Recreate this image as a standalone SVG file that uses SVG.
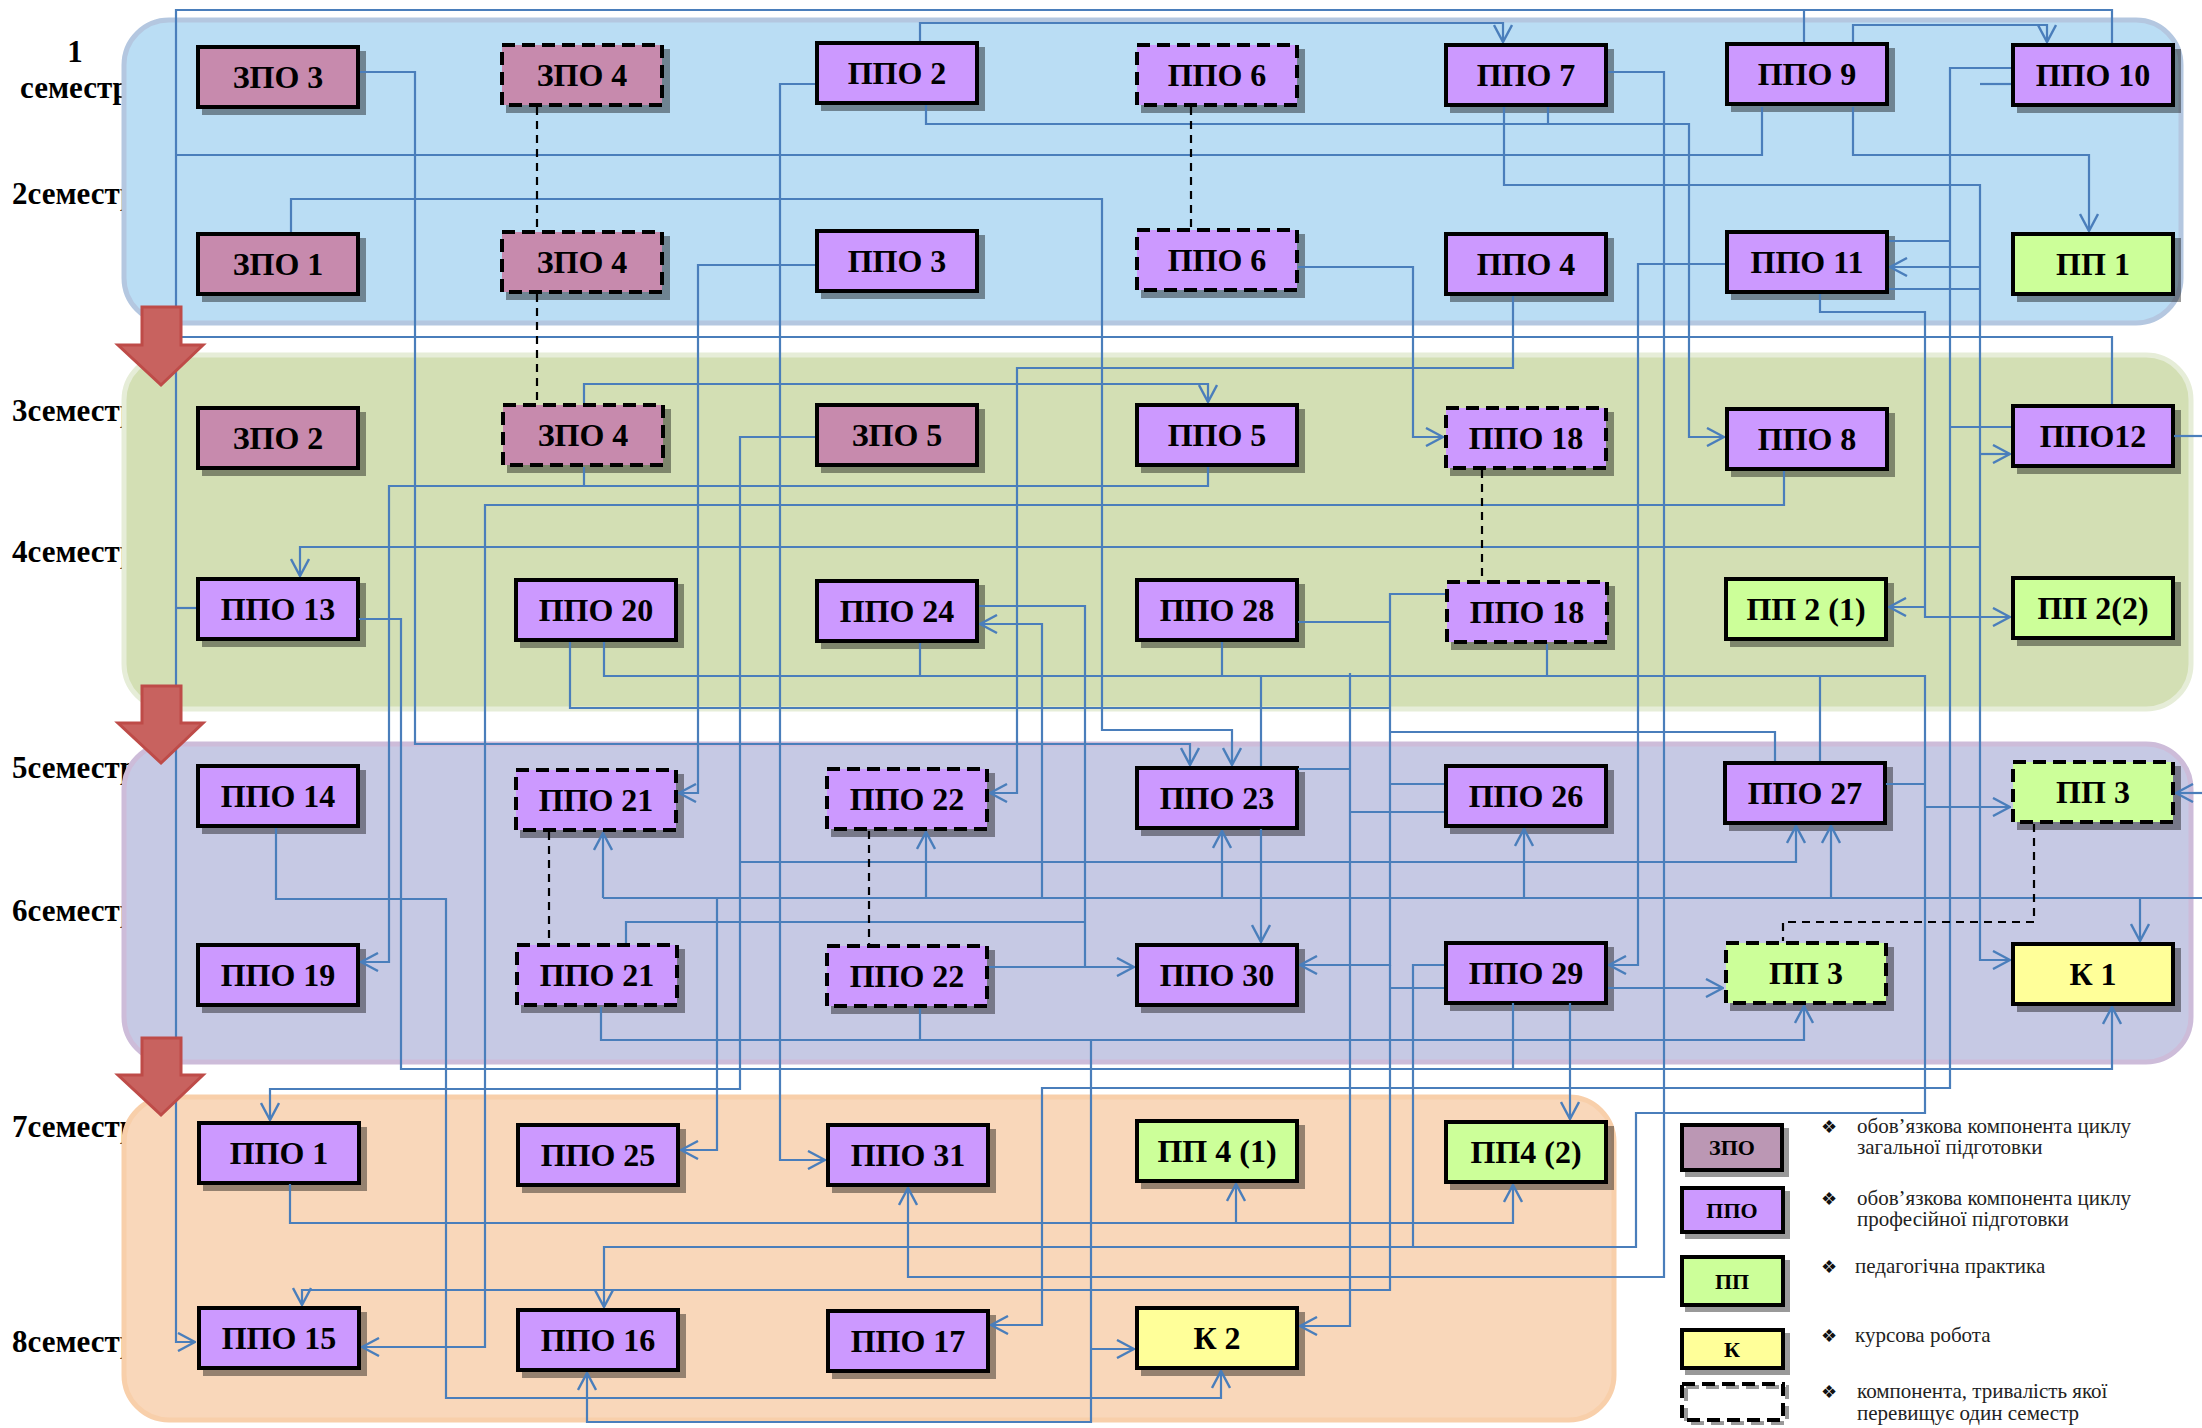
<svg xmlns="http://www.w3.org/2000/svg" width="2202" height="1428" viewBox="0 0 2202 1428">
<defs>
<style>
.sh{fill:#000;opacity:.4}
.b{stroke:#000;stroke-width:4}
.zpo{fill:#C78AAD}
.ppo{fill:#CC99FF}
.pp{fill:#CCFF99}
.k{fill:#FFFF99}
.d{stroke-dasharray:13 7}
.t{font-family:"Liberation Serif","Times New Roman",serif;font-weight:bold;font-size:32px;text-anchor:middle;fill:#000}
.lbl{font-family:"Liberation Serif","Times New Roman",serif;font-weight:bold;font-size:31px;fill:#000}
.c{fill:none;stroke:#4A7EBB;stroke-width:2.2}
.a{marker-end:url(#ah)}
.dl{fill:none;stroke:#000;stroke-width:2.2;stroke-dasharray:8 6}
.lt{font-family:"Liberation Serif","Times New Roman",serif;font-size:21px;fill:#222}
.bul{font-family:"DejaVu Sans",sans-serif;font-size:18px;fill:#111;text-anchor:middle}
.lgt{font-family:"Liberation Serif","Times New Roman",serif;font-weight:bold;font-size:22px;text-anchor:middle;fill:#000}
</style>
<marker id="ah" viewBox="0 0 20 20" refX="19" refY="10" markerWidth="20" markerHeight="20" markerUnits="userSpaceOnUse" orient="auto">
<path d="M2,1 L19,10 L2,19" fill="none" stroke="#4A7EBB" stroke-width="2.4"/>
</marker>
</defs>
<rect width="2202" height="1428" fill="#fff"/>
<g id="labels">
<text class="lbl" x="75" y="62" text-anchor="middle">1</text>
<text class="lbl" x="20" y="98">семестр</text>
<text class="lbl" x="12" y="204">2семестр</text>
<text class="lbl" x="12" y="421">3семестр</text>
<text class="lbl" x="12" y="562">4семестр</text>
<text class="lbl" x="12" y="778">5семестр</text>
<text class="lbl" x="12" y="921">6семестр</text>
<text class="lbl" x="12" y="1137">7семестр</text>
<text class="lbl" x="12" y="1352">8семестр</text>
</g>
<g id="bands">
<rect x="124" y="20" width="2057" height="303" rx="45" fill="#BADDF4" stroke="#B4C7E0" stroke-width="5"/>
<rect x="124" y="355" width="2067" height="354" rx="45" fill="#D3DFB4" stroke="#E6EDD8" stroke-width="5"/>
<rect x="124" y="744" width="2067" height="318" rx="45" fill="#C6C9E4" stroke="#CDBCD9" stroke-width="5"/>
<rect x="124" y="1097" width="1490" height="323" rx="45" fill="#F9D7BA" stroke="#F8CFAA" stroke-width="5"/>
</g>
<g id="nodes">
<g id="zpo3"><rect class="sh" x="202" y="51" width="164" height="64"/><rect class="b zpo" x="198" y="47" width="160" height="60"/><text class="t" x="278" y="88">ЗПО 3</text></g>
<g id="zpo4a"><rect class="sh" x="506" y="49" width="164" height="64"/><rect class="b zpo d" x="502" y="45" width="160" height="60"/><text class="t" x="582" y="86">ЗПО 4</text></g>
<g id="ppo2"><rect class="sh" x="821" y="47" width="164" height="64"/><rect class="b ppo" x="817" y="43" width="160" height="60"/><text class="t" x="897" y="84">ППО 2</text></g>
<g id="ppo6a"><rect class="sh" x="1141" y="49" width="164" height="64"/><rect class="b ppo d" x="1137" y="45" width="160" height="60"/><text class="t" x="1217" y="86">ППО 6</text></g>
<g id="ppo7"><rect class="sh" x="1450" y="49" width="164" height="64"/><rect class="b ppo" x="1446" y="45" width="160" height="60"/><text class="t" x="1526" y="86">ППО 7</text></g>
<g id="ppo9"><rect class="sh" x="1731" y="48" width="164" height="64"/><rect class="b ppo" x="1727" y="44" width="160" height="60"/><text class="t" x="1807" y="85">ППО 9</text></g>
<g id="ppo10"><rect class="sh" x="2017" y="49" width="164" height="64"/><rect class="b ppo" x="2013" y="45" width="160" height="60"/><text class="t" x="2093" y="86">ППО 10</text></g>

<g id="zpo1"><rect class="sh" x="202" y="238" width="164" height="64"/><rect class="b zpo" x="198" y="234" width="160" height="60"/><text class="t" x="278" y="275">ЗПО 1</text></g>
<g id="zpo4b"><rect class="sh" x="506" y="236" width="164" height="64"/><rect class="b zpo d" x="502" y="232" width="160" height="60"/><text class="t" x="582" y="273">ЗПО 4</text></g>
<g id="ppo3"><rect class="sh" x="821" y="235" width="164" height="64"/><rect class="b ppo" x="817" y="231" width="160" height="60"/><text class="t" x="897" y="272">ППО 3</text></g>
<g id="ppo6b"><rect class="sh" x="1141" y="234" width="164" height="64"/><rect class="b ppo d" x="1137" y="230" width="160" height="60"/><text class="t" x="1217" y="271">ППО 6</text></g>
<g id="ppo4"><rect class="sh" x="1450" y="238" width="164" height="64"/><rect class="b ppo" x="1446" y="234" width="160" height="60"/><text class="t" x="1526" y="275">ППО 4</text></g>
<g id="ppo11"><rect class="sh" x="1731" y="236" width="164" height="64"/><rect class="b ppo" x="1727" y="232" width="160" height="60"/><text class="t" x="1807" y="273">ППО 11</text></g>
<g id="pp1"><rect class="sh" x="2017" y="238" width="164" height="64"/><rect class="b pp" x="2013" y="234" width="160" height="60"/><text class="t" x="2093" y="275">ПП 1</text></g>

<g id="zpo2"><rect class="sh" x="202" y="412" width="164" height="64"/><rect class="b zpo" x="198" y="408" width="160" height="60"/><text class="t" x="278" y="449">ЗПО 2</text></g>
<g id="zpo4c"><rect class="sh" x="507" y="409" width="164" height="64"/><rect class="b zpo d" x="503" y="405" width="160" height="60"/><text class="t" x="583" y="446">ЗПО 4</text></g>
<g id="zpo5"><rect class="sh" x="821" y="409" width="164" height="64"/><rect class="b zpo" x="817" y="405" width="160" height="60"/><text class="t" x="897" y="446">ЗПО 5</text></g>
<g id="ppo5"><rect class="sh" x="1141" y="409" width="164" height="64"/><rect class="b ppo" x="1137" y="405" width="160" height="60"/><text class="t" x="1217" y="446">ППО 5</text></g>
<g id="ppo18a"><rect class="sh" x="1450" y="412" width="164" height="64"/><rect class="b ppo d" x="1446" y="408" width="160" height="60"/><text class="t" x="1526" y="449">ППО 18</text></g>
<g id="ppo8"><rect class="sh" x="1731" y="413" width="164" height="64"/><rect class="b ppo" x="1727" y="409" width="160" height="60"/><text class="t" x="1807" y="450">ППО 8</text></g>
<g id="ppo12"><rect class="sh" x="2017" y="410" width="164" height="64"/><rect class="b ppo" x="2013" y="406" width="160" height="60"/><text class="t" x="2093" y="447">ППО12</text></g>

<g id="ppo13"><rect class="sh" x="202" y="583" width="164" height="64"/><rect class="b ppo" x="198" y="579" width="160" height="60"/><text class="t" x="278" y="620">ППО 13</text></g>
<g id="ppo20"><rect class="sh" x="520" y="584" width="164" height="64"/><rect class="b ppo" x="516" y="580" width="160" height="60"/><text class="t" x="596" y="621">ППО 20</text></g>
<g id="ppo24"><rect class="sh" x="821" y="585" width="164" height="64"/><rect class="b ppo" x="817" y="581" width="160" height="60"/><text class="t" x="897" y="622">ППО 24</text></g>
<g id="ppo28"><rect class="sh" x="1141" y="584" width="164" height="64"/><rect class="b ppo" x="1137" y="580" width="160" height="60"/><text class="t" x="1217" y="621">ППО 28</text></g>
<g id="ppo18b"><rect class="sh" x="1451" y="586" width="164" height="64"/><rect class="b ppo d" x="1447" y="582" width="160" height="60"/><text class="t" x="1527" y="623">ППО 18</text></g>
<g id="pp2-1"><rect class="sh" x="1730" y="583" width="164" height="64"/><rect class="b pp" x="1726" y="579" width="160" height="60"/><text class="t" x="1806" y="620">ПП 2 (1)</text></g>
<g id="pp2-2"><rect class="sh" x="2017" y="582" width="164" height="64"/><rect class="b pp" x="2013" y="578" width="160" height="60"/><text class="t" x="2093" y="619">ПП 2(2)</text></g>

<g id="ppo14"><rect class="sh" x="202" y="770" width="164" height="64"/><rect class="b ppo" x="198" y="766" width="160" height="60"/><text class="t" x="278" y="807">ППО 14</text></g>
<g id="ppo21a"><rect class="sh" x="520" y="774" width="164" height="64"/><rect class="b ppo d" x="516" y="770" width="160" height="60"/><text class="t" x="596" y="811">ППО 21</text></g>
<g id="ppo22a"><rect class="sh" x="831" y="773" width="164" height="64"/><rect class="b ppo d" x="827" y="769" width="160" height="60"/><text class="t" x="907" y="810">ППО 22</text></g>
<g id="ppo23"><rect class="sh" x="1141" y="772" width="164" height="64"/><rect class="b ppo" x="1137" y="768" width="160" height="60"/><text class="t" x="1217" y="809">ППО 23</text></g>
<g id="ppo26"><rect class="sh" x="1450" y="770" width="164" height="64"/><rect class="b ppo" x="1446" y="766" width="160" height="60"/><text class="t" x="1526" y="807">ППО 26</text></g>
<g id="ppo27"><rect class="sh" x="1729" y="767" width="164" height="64"/><rect class="b ppo" x="1725" y="763" width="160" height="60"/><text class="t" x="1805" y="804">ППО 27</text></g>
<g id="pp3a"><rect class="sh" x="2017" y="766" width="164" height="64"/><rect class="b pp d" x="2013" y="762" width="160" height="60"/><text class="t" x="2093" y="803">ПП 3</text></g>

<g id="ppo19"><rect class="sh" x="202" y="949" width="164" height="64"/><rect class="b ppo" x="198" y="945" width="160" height="60"/><text class="t" x="278" y="986">ППО 19</text></g>
<g id="ppo21b"><rect class="sh" x="521" y="949" width="164" height="64"/><rect class="b ppo d" x="517" y="945" width="160" height="60"/><text class="t" x="597" y="986">ППО 21</text></g>
<g id="ppo22b"><rect class="sh" x="831" y="950" width="164" height="64"/><rect class="b ppo d" x="827" y="946" width="160" height="60"/><text class="t" x="907" y="987">ППО 22</text></g>
<g id="ppo30"><rect class="sh" x="1141" y="949" width="164" height="64"/><rect class="b ppo" x="1137" y="945" width="160" height="60"/><text class="t" x="1217" y="986">ППО 30</text></g>
<g id="ppo29"><rect class="sh" x="1450" y="947" width="164" height="64"/><rect class="b ppo" x="1446" y="943" width="160" height="60"/><text class="t" x="1526" y="984">ППО 29</text></g>
<g id="pp3b"><rect class="sh" x="1730" y="947" width="164" height="64"/><rect class="b pp d" x="1726" y="943" width="160" height="60"/><text class="t" x="1806" y="984">ПП 3</text></g>
<g id="k1"><rect class="sh" x="2017" y="948" width="164" height="64"/><rect class="b k" x="2013" y="944" width="160" height="60"/><text class="t" x="2093" y="985">К 1</text></g>

<g id="ppo1"><rect class="sh" x="203" y="1127" width="164" height="64"/><rect class="b ppo" x="199" y="1123" width="160" height="60"/><text class="t" x="279" y="1164">ППО 1</text></g>
<g id="ppo25"><rect class="sh" x="522" y="1129" width="164" height="64"/><rect class="b ppo" x="518" y="1125" width="160" height="60"/><text class="t" x="598" y="1166">ППО 25</text></g>
<g id="ppo31"><rect class="sh" x="832" y="1129" width="164" height="64"/><rect class="b ppo" x="828" y="1125" width="160" height="60"/><text class="t" x="908" y="1166">ППО 31</text></g>
<g id="pp4-1"><rect class="sh" x="1141" y="1125" width="164" height="64"/><rect class="b pp" x="1137" y="1121" width="160" height="60"/><text class="t" x="1217" y="1162">ПП 4 (1)</text></g>
<g id="pp4-2"><rect class="sh" x="1450" y="1126" width="164" height="64"/><rect class="b pp" x="1446" y="1122" width="160" height="60"/><text class="t" x="1526" y="1163">ПП4 (2)</text></g>

<g id="ppo15"><rect class="sh" x="203" y="1312" width="164" height="64"/><rect class="b ppo" x="199" y="1308" width="160" height="60"/><text class="t" x="279" y="1349">ППО 15</text></g>
<g id="ppo16"><rect class="sh" x="522" y="1314" width="164" height="64"/><rect class="b ppo" x="518" y="1310" width="160" height="60"/><text class="t" x="598" y="1351">ППО 16</text></g>
<g id="ppo17"><rect class="sh" x="832" y="1315" width="164" height="64"/><rect class="b ppo" x="828" y="1311" width="160" height="60"/><text class="t" x="908" y="1352">ППО 17</text></g>
<g id="k2"><rect class="sh" x="1141" y="1312" width="164" height="64"/><rect class="b k" x="1137" y="1308" width="160" height="60"/><text class="t" x="1217" y="1349">К 2</text></g>
</g>
<g id="connectors">
<path class="c a" d="M2112,43 V10 H176 V1342 H195"/>
<path class="c" d="M1804,42 V10"/>
<path class="c" d="M176,155 H1762 V107"/>
<path class="c" d="M176,337 H2112 V404"/>
<path class="c" d="M176,608 H196"/>
<path class="c a" d="M920,41 V23 H1503 V42"/>
<path class="c a" d="M1853,42 V25 H2047 V42"/>
<path class="c a" d="M360,72 H415 V744 H1190 V765"/>
<path class="c a" d="M291,232 V199 H1102 V730 H1232 V765"/>
<path class="c a" d="M815,84 H780 V1160 H825"/>
<path class="c a" d="M926,105 V124 H1689 V437 H1724"/>
<path class="c" d="M1548,107 V124"/>
<path class="c a" d="M815,265 H698 V793 H679"/>
<path class="c a" d="M1298,267 H1413 V437 H1443"/>
<path class="c a" d="M1513,296 V368 H1017 V793 H990"/>
<path class="c a" d="M584,403 V384 H1208 V402"/>
<path class="c a" d="M815,437 H740 V1089 H270 V1120"/>
<path class="c a" d="M1208,467 V486 H389 V962 H361"/>
<path class="c" d="M584,467 V486"/>
<path class="c a" d="M1504,107 V185 H1980 V960 H2010"/>
<path class="c" d="M2011,84 H1980"/>
<path class="c a" d="M1980,267 H1890"/>
<path class="c" d="M1889,289 H1980"/>
<path class="c a" d="M1980,454 H2010"/>
<path class="c a" d="M1980,547 H300 V576"/>
<path class="c a" d="M2011,68 H1950 V1088 H1042 V1325 H991"/>
<path class="c" d="M1889,241 H1950"/>
<path class="c" d="M2011,427 H1950"/>
<path class="c a" d="M1608,72 H1664 V1277 H908 V1188"/>
<path class="c a" d="M1853,107 V155 H2089 V231"/>
<path class="c a" d="M1725,264 H1638 V965 H1609"/>
<path class="c a" d="M1820,294 V312 H1925 V617 H2010"/>
<path class="c a" d="M1925,607 H1889"/>
<path class="c" d="M2174,436 H2202"/>
<path class="c a" d="M2202,793 H2176"/>
<path class="c a" d="M1784,471 V505 H485 V1347 H362"/>
<path class="c a" d="M359,619 H401 V1069 H2112 V1007"/>
<path class="c" d="M1513,1003 V1069"/>
<path class="c a" d="M276,828 V899 H446 V1398 H1221 V1371"/>
<path class="c" d="M570,642 V708 H1390"/>
<path class="c a" d="M604,642 V676 H1925 V1113 H1636 V1247 H604 V1307"/>
<path class="c" d="M920,643 V676"/>
<path class="c" d="M1222,642 V676"/>
<path class="c" d="M1547,644 V676"/>
<path class="c" d="M1820,676 V761"/>
<path class="c" d="M1261,676 V766"/>
<path class="c" d="M1886,784 H1925"/>
<path class="c a" d="M1925,807 H2010"/>
<path class="c a" d="M1350,673 V1326 H1300"/>
<path class="c" d="M1298,769 H1350"/>
<path class="c" d="M1350,812 H1444"/>
<path class="c a" d="M1445,594 H1390 V965 H1300"/>
<path class="c" d="M1298,622 H1390"/>
<path class="c" d="M1390,784 H1444"/>
<path class="c" d="M1390,732 H1775 V761"/>
<path class="c a" d="M1390,965 V1290 H302 V1305"/>
<path class="c" d="M1444,988 H1390"/>
<path class="c" d="M979,606 H1085 V967"/>
<path class="c a" d="M989,967 H1134"/>
<path class="c" d="M1085,922 H626 V943"/>
<path class="c a" d="M1042,898 V624 H980"/>
<path class="c" d="M603,898 H2202"/>
<path class="c a" d="M603,898 V833"/>
<path class="c a" d="M926,898 V832"/>
<path class="c a" d="M1222,898 V831"/>
<path class="c a" d="M1524,898 V829"/>
<path class="c a" d="M1831,898 V826"/>
<path class="c a" d="M2140,898 V941"/>
<path class="c a" d="M717,898 V1150 H681"/>
<path class="c a" d="M740,862 H1796 V826"/>
<path class="c a" d="M601,1007 V1040 H1804 V1006"/>
<path class="c" d="M920,1008 V1040"/>
<path class="c a" d="M1091,1040 V1422 H587 V1373"/>
<path class="c a" d="M1091,1349 H1134"/>
<path class="c a" d="M290,1184 V1223 H1513 V1185"/>
<path class="c a" d="M1236,1223 V1184"/>
<path class="c a" d="M1570,1003 V1119"/>
<path class="c a" d="M1608,988 H1723"/>
<path class="c" d="M1444,965 H1413 V1247"/>
<path class="c a" d="M1261,829 V942"/>
</g>
<g id="duration-links">
<path class="dl" d="M537,107 V230"/>
<path class="dl" d="M537,294 V403"/>
<path class="dl" d="M1191,107 V228"/>
<path class="dl" d="M1482,470 V580"/>
<path class="dl" d="M549,832 V943"/>
<path class="dl" d="M869,831 V944"/>
<path class="dl" d="M2034,824 V922 H1783 V941"/>
</g>
<g id="semester-arrows" fill="#C8625F" stroke="#BE4B48" stroke-width="3">
<path d="M142,307 H181 V345 H203 L161,385 L118,345 H142 Z"/>
<path d="M142,686 H181 V723 H203 L161,763 L118,723 H142 Z"/>
<path d="M142,1038 H181 V1075 H203 L161,1115 L118,1075 H142 Z"/>
</g>
<g id="legend">
<rect class="sh" x="1685" y="1128" width="104" height="49"/>
<rect class="b" x="1682" y="1125" width="100" height="45" fill="#BB97B4"/>
<text class="lgt" x="1732" y="1155">ЗПО</text>
<rect class="sh" x="1685" y="1191" width="105" height="48"/>
<rect class="b ppo" x="1682" y="1188" width="101" height="44"/>
<text class="lgt" x="1732" y="1218">ППО</text>
<rect class="sh" x="1685" y="1260" width="105" height="52"/>
<rect class="b pp" x="1682" y="1257" width="101" height="48"/>
<text class="lgt" x="1732" y="1289">ПП</text>
<rect class="sh" x="1685" y="1333" width="105" height="42"/>
<rect class="b k" x="1682" y="1330" width="101" height="38"/>
<text class="lgt" x="1732" y="1357" font-size="20">К</text>
<rect x="1686" y="1387" width="101" height="36" fill="none" stroke="#999" stroke-width="4" stroke-dasharray="13 7"/>
<rect x="1682" y="1384" width="101" height="36" fill="none" stroke="#000" stroke-width="4" stroke-dasharray="13 7"/>
<text class="bul" x="1829" y="1133">❖</text>
<text class="lt" x="1857" y="1133">обов’язкова компонента циклу</text>
<text class="lt" x="1857" y="1154">загальної підготовки</text>
<text class="bul" x="1829" y="1205">❖</text>
<text class="lt" x="1857" y="1205">обов’язкова компонента циклу</text>
<text class="lt" x="1857" y="1226">професійної підготовки</text>
<text class="bul" x="1829" y="1273">❖</text>
<text class="lt" x="1855" y="1273">педагогічна практика</text>
<text class="bul" x="1829" y="1342">❖</text>
<text class="lt" x="1855" y="1342">курсова робота</text>
<text class="bul" x="1829" y="1398">❖</text>
<text class="lt" x="1857" y="1398">компонента, тривалість якої</text>
<text class="lt" x="1857" y="1420">перевищує один семестр</text>
</g>
</svg>
